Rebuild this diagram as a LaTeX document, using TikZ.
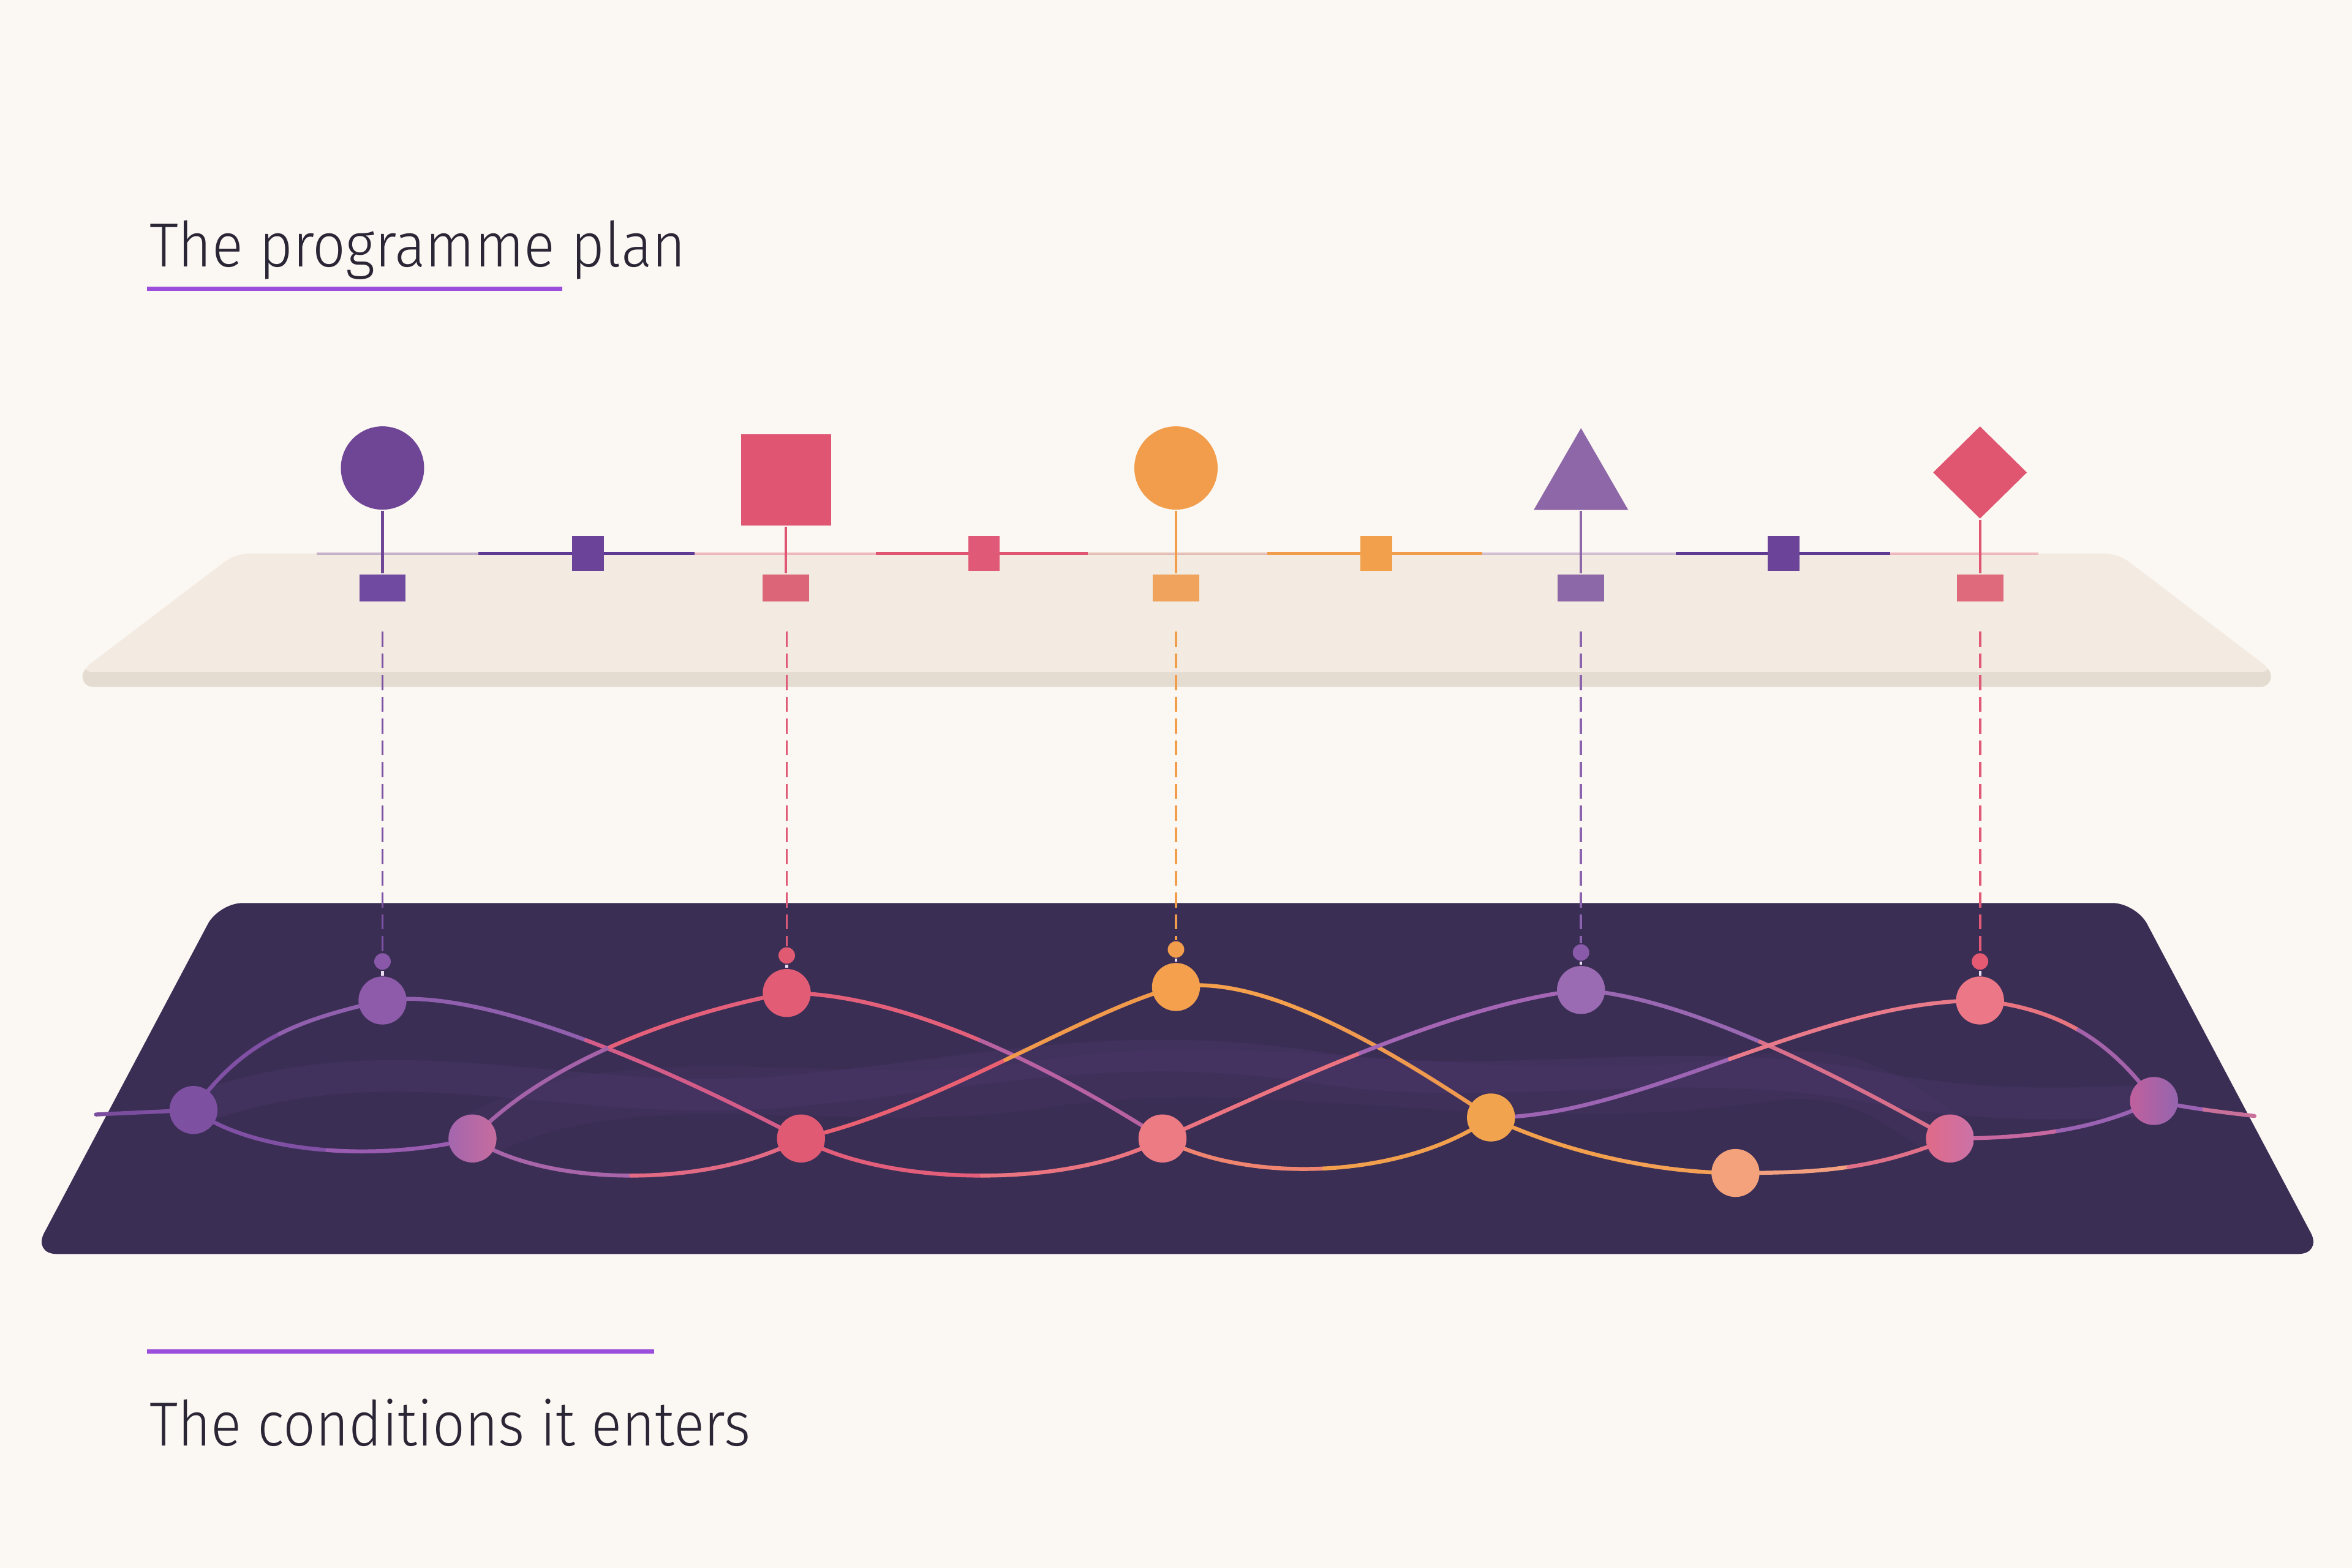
\documentclass[tikz,border=0pt]{standalone}
\usepackage{fontspec}
\setmainfont{Fira Sans Light}
\usetikzlibrary{calc,shapes.geometric}
\pgfdeclarelayer{plates}
\pgfdeclarelayer{links}
\pgfsetlayers{plates,links,main}
\newcommand\hx[2]{\definecolor{#1}{HTML}{#2}}
\hx{bgc}{FBF7F2}
\hx{ink}{2B2636}
\hx{accent}{9B4DDB}
\hx{platec}{F3EBE2}
\hx{bandc}{E5DCD1}
\hx{deep}{3B2E55}
\hx{cPurple}{6F4596}
\hx{cPink}{E05672}
\hx{cOrange}{F29D4C}
\hx{cTri}{8E67A8}
\hx{cDia}{E05570}
\hx{linePur}{5E3A94}
\hx{lineMix}{C86A60}
\hx{mPur}{6B4398}
\hx{mPink}{E05A78}
\hx{mOra}{F2A04C}
\hx{fA}{704AA0}
\hx{fB}{DC6578}
\hx{fC}{F0A35C}
\hx{fD}{8C68A8}
\hx{fE}{DE6A7C}
\hx{vA}{7E52A5}
\hx{vB}{E05A78}
\hx{vC}{F29D4C}
\hx{vD}{8A62AE}
\hx{vE}{E05A78}
\hx{dA}{8A58A8}
\hx{dB}{E05A72}
\hx{dC}{F29D4C}
\hx{dD}{8A5AAA}
\hx{dE}{E45A72}
\hx{gap}{EADCF0}
\hx{nT1}{8E5BAA}
\hx{nT2}{E35C75}
\hx{nT3}{F4A04D}
\hx{nT4}{9A6AB2}
\hx{nT5}{EC7786}
\hx{nL0}{7E50A2}
\hx{nB1a}{A466AE}
\hx{nB1b}{C66C9E}
\hx{nB2}{E05A74}
\hx{nB3}{EC7B84}
\hx{nB4}{F2A34E}
\hx{nB5}{F3A27C}
\hx{nB6a}{E06A88}
\hx{nB6b}{CB72A8}
\hx{nRa}{C0609E}
\hx{nRb}{9565AE}
\hx{wispc}{5E3F86}
\newcommand\twotone[6]{%
  \definecolor{twA}{HTML}{#5}%
  \definecolor{twB}{HTML}{#6}%
  \coordinate (tP0) at (#1.center);
  \coordinate (tP1) at ($(#1.center)+(#2)$);
  \coordinate (tP2) at ($(#4.center)+(#3)$);
  \coordinate (tP3) at (#4.center);
  \coordinate (tQ1) at ($(tP0)!0.5!(tP1)$);
  \coordinate (tH) at ($(tP1)!0.5!(tP2)$);
  \coordinate (tR2) at ($(tP2)!0.5!(tP3)$);
  \coordinate (tQ2) at ($(tQ1)!0.5!(tH)$);
  \coordinate (tR1) at ($(tH)!0.5!(tR2)$);
  \coordinate (tM) at ($(tQ2)!0.5!(tR1)$);
  \draw[link,draw=twA] (#1.center) .. controls (tQ1) and (tQ2) .. (tM);
  \draw[link,draw=twB] (tM) .. controls (tR1) and (tR2) .. (#4.center);
}
\begin{document}
\begin{tikzpicture}[x=0.01cm,y=-0.01cm,
  link/.style={line width=0.75pt,line cap=round},
  wisp/.style={line width=6pt,line cap=round,draw=wispc,opacity=0.18},
  topline/.style={line width=0.55pt},
  faintline/.style={line width=0.5pt,opacity=0.35},
  stem/.style={line width=0.5pt},
  dashline/.style={line width=0.45pt,dash pattern=on 0.1cm off 0.045cm},
  ball/.style={circle,inner sep=0pt,minimum size=0.32cm},
  dotn/.style={circle,inner sep=0pt,minimum size=0.11cm},
  marker/.style={rectangle,inner sep=0pt,minimum width=0.21cm,minimum height=0.23cm},
  foot/.style={rectangle,inner sep=0pt,minimum width=0.31cm,minimum height=0.18cm},
  title/.style={anchor=base west,inner sep=0pt,text=ink,font=\fontsize{11.8}{14}\selectfont}]
\useasboundingbox (0,0) rectangle (1568,1045.33);

% ---------- plates
\begin{pgfonlayer}{plates}
\fill[bgc] (0,0) rectangle (1568,1045.33);
\fill[bandc,rounded corners=2pt] (55,444) -- (1514,444) -- (1514,458) -- (55,458) -- cycle;
\fill[platec,rounded corners=2.5pt] (157,369) -- (1412,369) -- (1516,448) -- (53,448) -- cycle;
\fill[deep,rounded corners=4.5pt] (146,602) -- (1424,602) -- (1548,836) -- (22,836) -- cycle;
\end{pgfonlayer}

% ---------- titles
\node[title] (ttop) at (99,178) {\scalebox{0.93}[1]{The programme plan}};
\draw[accent,line width=0.82pt] (98,192.5) coordinate (u1a) -- (375,192.5) coordinate (u1b);
\draw[accent,line width=0.82pt] (98,901) coordinate (u2a) -- (436,901) coordinate (u2b);
\node[title] (tbot) at (99,964) {\scalebox{0.915}[1]{The conditions it enters}};

% ---------- top line
\coordinate (h0) at (211,369);
\coordinate (h1) at (319,369);
\coordinate (h2) at (463,369);
\coordinate (h3) at (584,369);
\coordinate (h4) at (725,369);
\coordinate (h5) at (845,369);
\coordinate (h6) at (988,369);
\coordinate (h7) at (1117,369);
\coordinate (h8) at (1260,369);
\coordinate (h9) at (1359,369);
\draw[faintline,cPurple] (h0) -- (h1);
\draw[topline,linePur] (h1) -- (h2);
\draw[faintline,cPink] (h2) -- (h3);
\draw[topline,cPink] (h3) -- (h4);
\draw[faintline,lineMix] (h4) -- (h5);
\draw[topline,cOrange] (h5) -- (h6);
\draw[faintline,cTri] (h6) -- (h7);
\draw[topline,linePur] (h7) -- (h8);
\draw[faintline,cPink] (h8) -- (h9);
\node[marker,fill=mPur] (m1) at (392,369) {};
\node[marker,fill=mPink] (m2) at (656,369) {};
\node[marker,fill=mOra] (m3) at (917.5,369) {};
\node[marker,fill=mPur] (m4) at (1189,369) {};

% ---------- plan shapes, stems, feet
\node[circle,inner sep=0pt,minimum size=0.555cm,fill=cPurple] (s1) at (255,312) {};
\node[rectangle,inner sep=0pt,minimum width=0.60cm,minimum height=0.61cm,fill=cPink] (s2) at (524,320) {};
\node[circle,inner sep=0pt,minimum size=0.555cm,fill=cOrange] (s3) at (784,312) {};
\node[regular polygon,regular polygon sides=3,inner sep=0pt,minimum size=0.727cm,fill=cTri] (s4) at (1054,321.8) {};
\node[diamond,inner sep=0pt,minimum width=0.63cm,minimum height=0.62cm,fill=cDia] (s5) at (1320,315) {};

\node[foot,fill=fA] (f1) at (255,392) {};
\node[foot,fill=fB] (f2) at (524,392) {};
\node[foot,fill=fC] (f3) at (784,392) {};
\node[foot,fill=fD] (f4) at (1054,392) {};
\node[foot,fill=fE] (f5) at (1320,392) {};

\draw[stem,cPurple] (s1) -- (f1);
\draw[stem,cPink] (s2) -- (f2);
\draw[stem,cOrange] (s3) -- (f3);
\draw[stem,cTri] (s4.south) -- (f4);
\draw[stem,cDia] (s5.south) -- (f5);

% ---------- drop lines
\coordinate (v1) at (255,421);
\coordinate (v2) at (524.5,421);
\coordinate (v3) at (784,421);
\coordinate (v4) at (1054,421);
\coordinate (v5) at (1320,421);
\node[dotn,fill=dA] (d1) at (255,641) {};
\node[dotn,fill=dB] (d2) at (524.5,637) {};
\node[dotn,fill=dC] (d3) at (784,633) {};
\node[dotn,fill=dD] (d4) at (1054,635) {};
\node[dotn,fill=dE] (d5) at (1320,641) {};
\draw[dashline,vA] (v1) -- (d1);
\draw[dashline,vB] (v2) -- (d2);
\draw[dashline,vC] (v3) -- (d3);
\draw[dashline,vD] (v4) -- (d4);
\draw[dashline,vE] (v5) -- (d5);

% ---------- condition nodes
\node[ball,fill=nT1] (T1) at (255,667) {};
\node[ball,fill=nT2] (T2) at (524.5,662) {};
\node[ball,fill=nT3] (T3) at (784,658) {};
\node[ball,fill=nT4] (T4) at (1054,660) {};
\node[ball,fill=nT5] (T5) at (1320,667) {};
\node[ball,fill=nL0] (L0) at (129,740) {};
\node[ball,left color=nB1a,right color=nB1b] (B1) at (315,759) {};
\node[ball,fill=nB2] (B2) at (534,759) {};
\node[ball,fill=nB3] (B3) at (775,759) {};
\node[ball,fill=nB4] (B4) at (994,745) {};
\node[ball,fill=nB5] (B5) at (1157,782) {};
\node[ball,left color=nB6a,right color=nB6b] (B6) at (1300,759) {};
\node[ball,left color=nRa,right color=nRb] (R) at (1436,734) {};
\coordinate (wl) at (64,743);
\coordinate (wr) at (1503,744);

\foreach \i/\T in {1/T1,2/T2,3/T3,4/T4,5/T5}
  \draw[line width=0.5pt,gap] (d\i) -- (\T);

% ---------- woven strands
\begin{pgfonlayer}{links}
\draw[wisp] (L0.center) .. controls (260,690) and (380,740) .. (520,728)
  .. controls (640,718) and (740,690) .. (880,712)
  .. controls (1000,730) and (1120,700) .. (1250,725) .. controls (1330,740) and (1390,735) .. (R.center);
\draw[wisp,opacity=0.12,line width=9pt] (B1.center) .. controls (420,700) and (560,745) .. (700,722)
  .. controls (850,700) and (1000,745) .. (1180,718) .. controls (1240,710) and (1270,740) .. (B6.center);
\twotone{wl}{20,-1}{-20,1}{L0}{7A4D9E}{7E50A2}
\twotone{L0}{35,-50}{-50,12}{T1}{8050A4}{9060AE}
\twotone{L0}{45,32}{-55,14}{B1}{8050A4}{9A5CB0}
\twotone{T1}{70,-10}{-80,-42}{B2}{9060AE}{D45C88}
\twotone{B1}{45,-48}{-80,15}{T2}{A462A8}{E4607A}
\twotone{B1}{50,33}{-60,33}{B2}{A865AA}{E26A84}
\twotone{T2}{80,0}{-70,-45}{B3}{E4607A}{B862A2}
\twotone{B2}{90,-20}{-60,15}{T3}{E86072}{F29A4C}
\twotone{B2}{60,33}{-60,33}{B3}{E25E7A}{EA7480}
\twotone{T3}{60,-10}{-60,-40}{B4}{F4A04D}{F09A50}
\twotone{B3}{70,-30}{-90,10}{T4}{EC7480}{A466B4}
\twotone{B3}{55,30}{-60,42}{B4}{EF8570}{F2A04D}
\twotone{T4}{70,5}{-80,-45}{B6}{9A68B2}{D8708C}
\twotone{B4}{100,0}{-110,0}{T5}{9C64B2}{E87A8A}
\twotone{B4}{50,24}{-50,0}{B5}{F2A04D}{F4A055}
\twotone{B5}{60,0}{-50,20}{B6}{F2A080}{E07088}
\twotone{T5}{50,5}{-30,-42}{R}{E87480}{A462AA}
\twotone{B6}{50,0}{-40,20}{R}{C868A0}{9A62B2}
\twotone{R}{25,5}{-25,-3}{wr}{9A62B2}{C8709A}
\end{pgfonlayer}
\end{tikzpicture}
\end{document}
